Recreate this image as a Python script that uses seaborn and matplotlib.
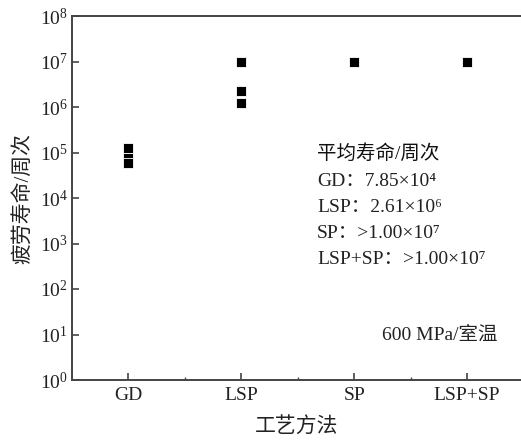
import matplotlib
matplotlib.use("Agg")
import matplotlib.pyplot as plt
import seaborn as sns
import pandas as pd
from matplotlib.ticker import LogLocator, LogFormatterSciNotation, FixedLocator

categories = ["GD", "LSP", "SP", "LSP+SP"]
point_category = ["GD", "GD", "GD", "LSP", "LSP", "LSP", "SP", "LSP+SP"]
point_life = [1.25e5, 7.4e4, 5.8e4, 1.0e7, 2.2e6, 1.25e6, 1.0e7, 1.0e7]
summary_lines = ["GD：7.85×10⁴", "LSP：2.61×10⁶",
                 "SP：>1.00×10⁷", "LSP+SP：>1.00×10⁷"]

sns.set_style("ticks")
fams = ["Liberation Serif", "Noto Sans CJK SC"]
plt.rcParams["font.family"] = fams
plt.rcParams["mathtext.fontset"] = "custom"
plt.rcParams["mathtext.rm"] = "Liberation Serif"
plt.rcParams["mathtext.it"] = "Liberation Serif:italic"
plt.rcParams["axes.unicode_minus"] = False

df = pd.DataFrame({"工艺方法": point_category, "寿命": point_life})

fig = plt.figure(figsize=(5.21, 4.43), dpi=100)
ax = fig.add_axes([72/521, 1-380/443, 451.5/521, 364/443])
sns.stripplot(data=df, x="工艺方法", y="寿命", order=categories, jitter=False,
              marker="s", color="black", size=6.5, linewidth=0.6, edgecolor="white",
              ax=ax, log_scale=(False, True))
ax.set_xlim(-0.5, 3.5)
ax.set_yscale("log")
ax.set_ylim(1, 1e8)
ax.yaxis.set_major_locator(LogLocator(base=10, numticks=20))
ax.yaxis.set_minor_locator(FixedLocator([]))
ax.yaxis.set_major_formatter(LogFormatterSciNotation())
ax.xaxis.set_minor_locator(FixedLocator([0.5, 1.5, 2.5]))

for s in ax.spines.values():
    s.set_color("#444444")
    s.set_linewidth(1.4)
ax.spines["right"].set_visible(True)
ax.spines["top"].set_visible(True)
ax.tick_params(axis="both", which="major", direction="in", length=5, width=1.2,
               color="#444444", labelsize=14, labelcolor="#222222", pad=5)
ax.tick_params(axis="x", which="minor", direction="in", length=2, width=1, color="#444444")
ax.tick_params(axis="y", which="major", pad=3)

ax.set_xlabel("工艺方法", fontsize=15, color="#222222")
ax.set_ylabel("疲劳寿命/周次", fontsize=15, color="#222222")
ax.xaxis.set_label_coords((297-72)/451.5, (380-417)/364)
ax.yaxis.set_label_coords((34-72)/451.5, (380-199)/364)

ax.text(317/521, 1-153/443, "平均寿命/周次", transform=fig.transFigure, fontsize=14,
        va="center", ha="left", color="#111111")
ys = [182, 208, 234, 259]
for y, t in zip(ys, summary_lines):
    ax.text(317/521, 1-y/443, t, transform=fig.transFigure, fontsize=14,
            va="center", ha="left", color="#222222")
ax.text(382/521, 1-335/443, "600 MPa/室温", transform=fig.transFigure, fontsize=14,
        va="center", ha="left", color="#222222")

fig.savefig("out.png", dpi=100)
